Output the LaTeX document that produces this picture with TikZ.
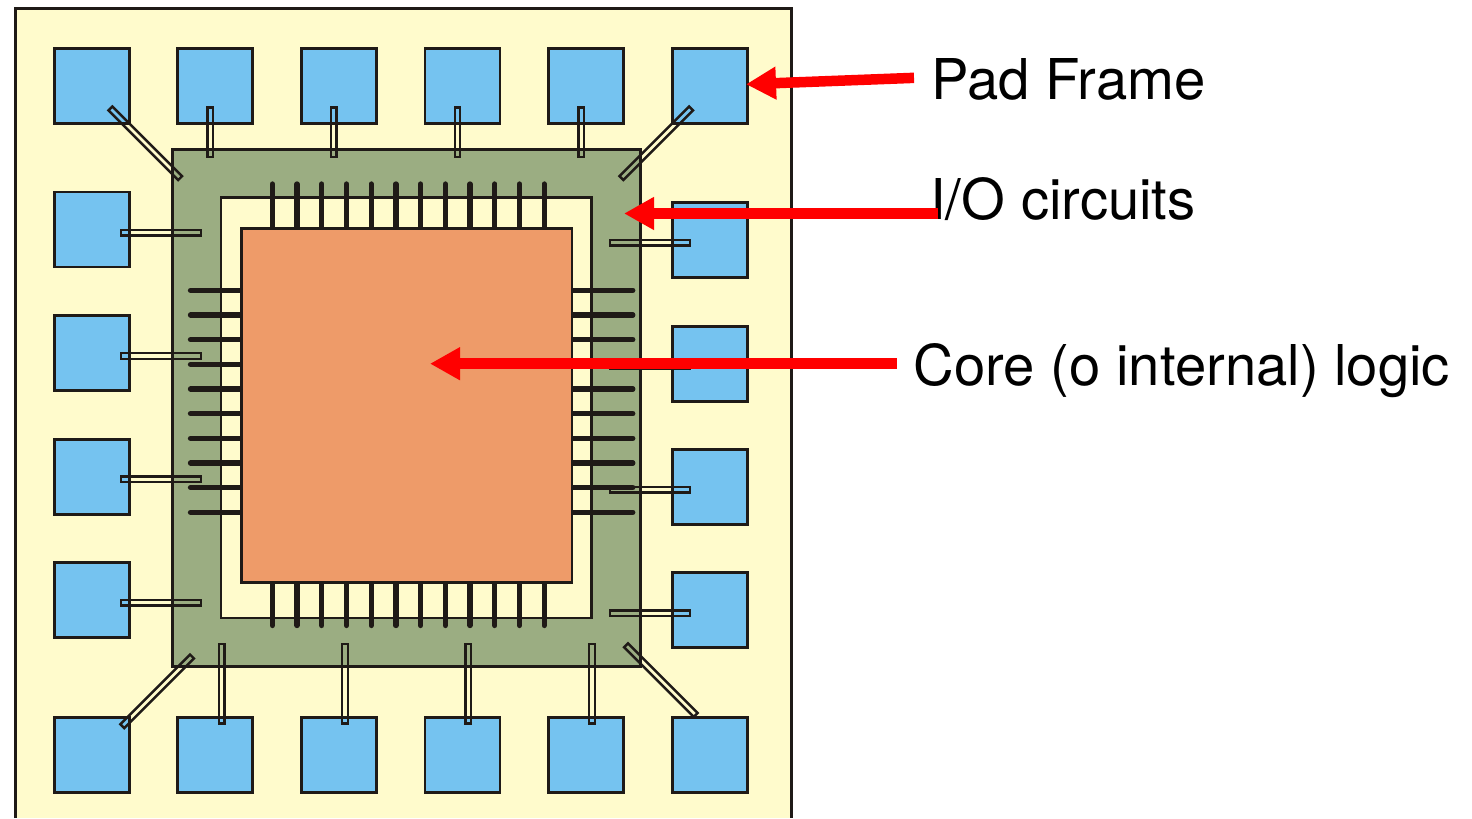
\documentclass[tikz,border=0pt]{standalone}
\usepackage{fontspec}
\setsansfont{TeX Gyre Heros}
\usetikzlibrary{arrows.meta,positioning,calc}
\definecolor{Ink}{HTML}{1F1A17}
\definecolor{FrameFill}{HTML}{FFFBCC}
\definecolor{PadFill}{HTML}{75C3F0}
\definecolor{RingFill}{HTML}{9BAD82}
\definecolor{CoreFill}{HTML}{EE9B69}
\definecolor{ArrowRed}{HTML}{FF0000}
\tikzset{
  padbox/.style={rectangle,draw=Ink,fill=PadFill,line width=1.5pt,minimum size=1.5cm,inner sep=0pt},
  blockbox/.style={draw=Ink,line width=1.5pt},
  pin/.style={draw=Ink,line width=3pt,line cap=round},
  vwire/.style={rectangle,draw=Ink,line width=1.4pt,minimum width=0.11cm,inner sep=0pt},
  hwire/.style={rectangle,draw=Ink,line width=1.4pt,minimum height=0.11cm,minimum width=1.6cm,inner sep=0pt},
  dwire/.style={rectangle,draw=Ink,line width=1.4pt,minimum height=0.11cm,minimum width=1.97cm,inner sep=0pt},
  calllabel/.style={anchor=west,inner xsep=0.34cm,inner ysep=0pt,text height=25.12pt,text depth=0pt,text=black,font=\sffamily\fontsize{32}{36}\selectfont},
  callarrow/.style={draw=ArrowRed,line width=0.21cm,-{Triangle[length=0.6cm,width=0.62cm]}},
}
\begin{document}
\begin{tikzpicture}[x=1cm,y=1cm]
\useasboundingbox (0,0) rectangle (29.44,16.36);
\fill[FrameFill] (0.31,0) rectangle (15.83,16.19);
\draw[Ink,line width=1.6pt] (0.31,0) -- (0.31,16.19) -- (15.83,16.19) -- (15.83,0);
% pads
\node[padbox] (padT1) at (1.834,14.644) {};
\node[padbox] (padT2) at (4.306,14.644) {};
\node[padbox] (padT3) at (6.778,14.644) {};
\node[padbox] (padT4) at (9.250,14.644) {};
\node[padbox] (padT5) at (11.722,14.644) {};
\node[padbox] (padT6) at (14.194,14.644) {};
\node[padbox] (padL1) at (1.834,11.770) {};
\node[padbox] (padL2) at (1.834,9.298) {};
\node[padbox] (padL3) at (1.834,6.826) {};
\node[padbox] (padL4) at (1.834,4.354) {};
\node[padbox] (padR1) at (14.194,11.554) {};
\node[padbox] (padR2) at (14.194,9.082) {};
\node[padbox] (padR3) at (14.194,6.626) {};
\node[padbox] (padR4) at (14.194,4.154) {};
\node[padbox] (padB1) at (1.834,1.254) {};
\node[padbox] (padB2) at (4.306,1.254) {};
\node[padbox] (padB3) at (6.778,1.254) {};
\node[padbox] (padB4) at (9.250,1.254) {};
\node[padbox] (padB5) at (11.722,1.254) {};
\node[padbox] (padB6) at (14.194,1.254) {};
% ring and its opening
\draw[blockbox,fill=RingFill] (3.454,3.026) rectangle (12.806,13.366);
\draw[blockbox,fill=FrameFill] (4.420,4.000) rectangle (11.834,12.406);
% pins
\draw[pin] (5.446,11.786) -- (5.446,12.680);
\draw[pin] (5.940,11.786) -- (5.940,12.680);
\draw[pin] (6.435,11.786) -- (6.435,12.680);
\draw[pin] (6.929,11.786) -- (6.929,12.680);
\draw[pin] (7.424,11.786) -- (7.424,12.680);
\draw[pin] (7.918,11.786) -- (7.918,12.680);
\draw[pin] (8.412,11.786) -- (8.412,12.680);
\draw[pin] (8.907,11.786) -- (8.907,12.680);
\draw[pin] (9.401,11.786) -- (9.401,12.680);
\draw[pin] (9.896,11.786) -- (9.896,12.680);
\draw[pin] (10.390,11.786) -- (10.390,12.680);
\draw[pin] (10.885,11.786) -- (10.885,12.680);
\draw[pin] (5.446,4.714) -- (5.446,3.850);
\draw[pin] (5.940,4.714) -- (5.940,3.850);
\draw[pin] (6.435,4.714) -- (6.435,3.850);
\draw[pin] (6.929,4.714) -- (6.929,3.850);
\draw[pin] (7.424,4.714) -- (7.424,3.850);
\draw[pin] (7.918,4.714) -- (7.918,3.850);
\draw[pin] (8.412,4.714) -- (8.412,3.850);
\draw[pin] (8.907,4.714) -- (8.907,3.850);
\draw[pin] (9.401,4.714) -- (9.401,3.850);
\draw[pin] (9.896,4.714) -- (9.896,3.850);
\draw[pin] (10.390,4.714) -- (10.390,3.850);
\draw[pin] (10.885,4.714) -- (10.885,3.850);
\draw[pin] (4.826,10.554) -- (3.810,10.554);
\draw[pin] (4.826,10.060) -- (3.810,10.060);
\draw[pin] (4.826,9.566) -- (3.810,9.566);
\draw[pin] (4.826,9.072) -- (3.810,9.072);
\draw[pin] (4.826,8.580) -- (3.810,8.580);
\draw[pin] (4.826,8.086) -- (3.810,8.086);
\draw[pin] (4.826,7.594) -- (3.810,7.594);
\draw[pin] (4.826,7.100) -- (3.810,7.100);
\draw[pin] (4.826,6.608) -- (3.810,6.608);
\draw[pin] (4.826,6.114) -- (3.810,6.114);
\draw[pin] (11.440,10.554) -- (12.656,10.554);
\draw[pin] (11.440,10.060) -- (12.656,10.060);
\draw[pin] (11.440,9.566) -- (12.656,9.566);
\draw[pin] (11.440,9.072) -- (12.656,9.072);
\draw[pin] (11.440,8.580) -- (12.656,8.580);
\draw[pin] (11.440,8.086) -- (12.656,8.086);
\draw[pin] (11.440,7.594) -- (12.656,7.594);
\draw[pin] (11.440,7.100) -- (12.656,7.100);
\draw[pin] (11.440,6.608) -- (12.656,6.608);
\draw[pin] (11.440,6.114) -- (12.656,6.114);
% core
\draw[blockbox,fill=CoreFill] (4.826,4.714) rectangle (11.440,11.786);
% bond wires, hollow
\node[dwire,rotate=-45] (wireTL) at (2.905,13.493) {};
\node[vwire,minimum height=0.99cm] (wireT2) at (4.206,13.714) {};
\node[vwire,minimum height=0.99cm] (wireT3) at (6.678,13.714) {};
\node[vwire,minimum height=0.99cm] (wireT4) at (9.150,13.714) {};
\node[vwire,minimum height=0.99cm] (wireT5) at (11.622,13.714) {};
\node[dwire,rotate=45] (wireTR) at (13.125,13.496) {};
\node[hwire] (wireL1) at (3.216,11.706) {};
\node[hwire] (wireL2) at (3.216,9.240) {};
\node[hwire] (wireL3) at (3.216,6.774) {};
\node[hwire] (wireL4) at (3.216,4.306) {};
\node[hwire] (wireR1) at (13.004,11.506) {};
\node[hwire] (wireR2) at (13.004,9.030) {};
\node[hwire] (wireR3) at (13.004,6.566) {};
\node[hwire] (wireR4) at (13.004,4.094) {};
\node[dwire,rotate=45] (wireBL) at (3.144,2.533) {};
\node[vwire,minimum height=1.59cm] (wireB2) at (4.434,2.686) {};
\node[vwire,minimum height=1.59cm] (wireB3) at (6.900,2.686) {};
\node[vwire,minimum height=1.59cm] (wireB4) at (9.368,2.686) {};
\node[vwire,minimum height=1.59cm] (wireB5) at (11.840,2.686) {};
\node[dwire,rotate=-45] (wireBR) at (13.217,2.758) {};
% labels
\node[calllabel] (lblPad) at (18.28,14.803) {Pad Frame};
\node[calllabel] (lblIO) at (18.26,12.420) {I/O circuits};
\node[calllabel] (lblCore) at (17.93,9.083) {Core (o internal) logic};
\coordinate (tipIO) at (12.48,12.09);
\coordinate (tipCore) at (8.60,9.086);
\draw[callarrow] (lblPad.west) -- ([xshift=-0.05cm,yshift=0.03cm]padT6.east);
\draw[callarrow] ([xshift=0.16cm]lblIO.text |- tipIO) -- (tipIO);
\draw[callarrow] (lblCore.west |- tipCore) -- (tipCore);
\end{tikzpicture}
\end{document}
